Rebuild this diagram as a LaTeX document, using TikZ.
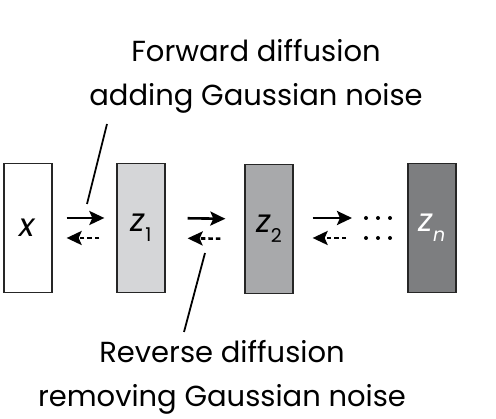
\documentclass[tikz,border=0pt]{standalone}
\usepackage{fontspec}
\setmainfont{Poppins}
\usepackage{tikz}
\usetikzlibrary{arrows.meta, positioning}
\tikzset{>={Stealth[length=15pt,width=14pt,inset=3pt]}}
\definecolor{stageA}{HTML}{D5D6D8}
\definecolor{stageB}{HTML}{A8A9AB}
\definecolor{stageC}{HTML}{7D7E80}
\newcommand{\zlab}[1]{\textit{z}\raisebox{-10pt}{\fontsize{19}{19}\selectfont #1}}

\begin{document}
\begin{tikzpicture}[x=1pt, y=-1pt,
    stage/.style={draw=black!85, line width=1.3pt, minimum width=48pt, minimum height=129pt, inner sep=0pt, font=\fontsize{32}{32}\selectfont},
    fwd/.style={->, line width=2.6pt},
    bwd/.style={->, line width=2.6pt, dash pattern=on 4.5pt off 3pt},
    leader/.style={line width=1.8pt},
    caption/.style={align=center, font=\fontsize{29}{44}\selectfont}]
    \useasboundingbox (0,0) rectangle (496,419);

    \node (X) [stage, fill=white] at (28,228) {\textit{x}};
    \node (A) [stage, fill=stageA] at (141,228) {\zlab{1}};
    \node (B) [stage, fill=stageB] at (269,229) {\zlab{2}};
    \node (N) [stage, fill=stageC, text=white] at (432,228) {\zlab{\textit{n}}};
    \coordinate (Df) at (378,218);
    \coordinate (Db) at (378,238);
    \foreach \dx in {-12,0,12} {
        \fill ([xshift=\dx pt]Df) circle (2pt);
        \fill ([xshift=\dx pt]Db) circle (2pt);
    }

    \draw [fwd, shorten <=14pt, shorten >=12pt] ([yshift=10pt]X.east) -- ([yshift=10pt]A.west);
    \draw [bwd, shorten <=17pt, shorten >=14pt] ([yshift=-10pt]A.west) -- ([yshift=-10pt]X.east);
    \draw [fwd, shorten <=22pt, shorten >=19pt] ([yshift=10pt]A.east) -- ([yshift=10pt]B.west);
    \draw [bwd, shorten <=24pt, shorten >=22pt] ([yshift=-10pt]B.west) -- ([yshift=-10pt]A.east);
    \draw [fwd, shorten <=19pt, shorten >=26pt] (B.east |- Df) -- (Df);
    \draw [bwd, shorten <=32pt, shorten >=19pt] (Db) -- (B.east |- Db);

    \node (fwdlabel) [caption] at (256,76) {Forward diffusion\\adding Gaussian noise};
    \node (revlabel) [caption] at (222,377) {Reverse diffusion\\removing Gaussian noise};

    \coordinate (fwdtop) at (107,124);
    \coordinate (fwdtip) at (87,204);
    \coordinate (revtop) at (205,253);
    \coordinate (revtip) at (184,332);
    \draw [leader] (fwdtop) -- (fwdtip);
    \draw [leader] (revtop) -- (revtip);
\end{tikzpicture}
\end{document}
